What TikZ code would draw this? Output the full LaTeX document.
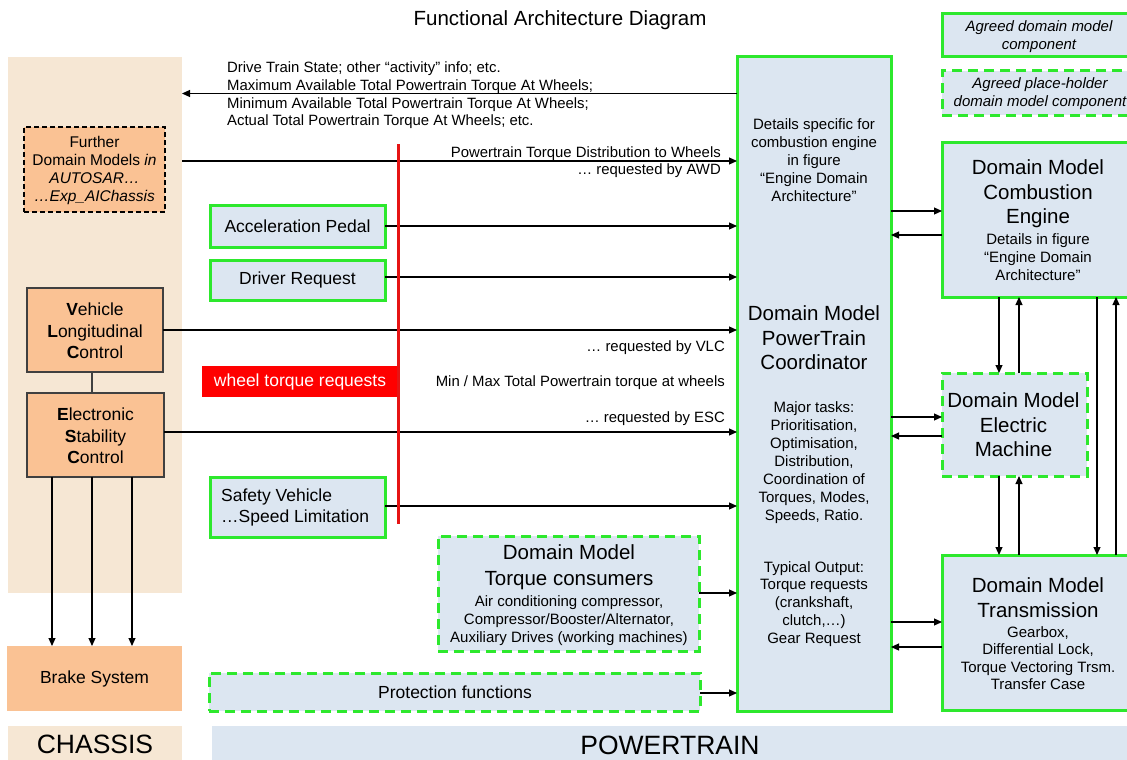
\documentclass[tikz,border=0pt]{standalone}
\usepackage{fontspec}
\setmainfont{Liberation Sans}
\usetikzlibrary{arrows.meta}
\definecolor{grn}{RGB}{45,232,45}
\definecolor{pblue}{RGB}{220,230,241}
\definecolor{orng}{RGB}{250,194,148}
\definecolor{tanbg}{RGB}{246,231,212}
\definecolor{dgray}{RGB}{64,64,64}
\definecolor{redl}{RGB}{230,20,20}
\newcommand\fsLab{\fontsize{14.9}{17.6}\selectfont}
\newcommand\fsSmall{\fontsize{15}{17.9}\selectfont}
\newcommand\fsMid{\fontsize{17.5}{21.5}\selectfont}
\newcommand\fsBig{\fontsize{20.5}{24.5}\selectfont}
\newcommand\fsHuge{\fontsize{26.5}{30}\selectfont}
\tikzset{
  base/.style={anchor=north west, inner sep=0pt, outer sep=0pt},
  gbox/.style={base, draw=grn, line width=3pt, fill=pblue},
  gdash/.style={gbox, dash pattern=on 10pt off 6pt},
  obox/.style={base, draw=dgray, line width=1.3pt, fill=orng},
  plain/.style={base, fill=#1},
  arr/.style={-{Triangle[length=8pt,width=7pt]}, line width=1.1pt, black},
  txt/.style={inner sep=0pt, align=center, text=black},
}
\begin{document}
\begin{tikzpicture}[x=1pt,y=-1pt]
\useasboundingbox (0,0) rectangle (1127,760);
% backgrounds
\node[plain=tanbg, minimum width=174pt, minimum height=536pt] (chpanel) at (8,57) {};
\node[plain=tanbg, minimum width=174pt, minimum height=36pt] (chassis) at (8,726) {};
\node[txt, font=\fsHuge] (chassist) at (chassis.center) {CHASSIS};
\node[plain=pblue, minimum width=918pt, minimum height=36pt] (ptbar) at (212,726) {};
\node[txt, font=\fsHuge] (ptbart) at (670,745) {POWERTRAIN};
\node[plain=orng, minimum width=175pt, minimum height=65pt] (brake) at (7,646) {};
\node[txt, font=\fsMid] (braket) at (brake.center) {Brake System};

% title
\node[txt, font=\fsBig] (title) at (560,20) {Functional Architecture Diagram};

% legend
\node[gbox, minimum width=196pt, minimum height=43pt] (leg1) at (942,14) {};
\node[txt, font=\fsSmall\itshape] (leg1t) at (1039,37) {Agreed domain model\\component};
\node[gdash, minimum width=196pt, minimum height=44pt] (leg2) at (942,71) {};
\node[txt, font=\fsSmall\itshape] (leg2t) at (1040,94) {Agreed place-holder\\domain model component};

% chassis side boxes
\node[base, draw=black, line width=1.2pt, dashed, dash pattern=on 5pt off 3pt, fill=orng, minimum width=141pt, minimum height=85pt] (further) at (24,127) {};
\node[txt, font=\fontsize{15.5}{18}\selectfont] (furthert) at (94.5,170) {Further\\Domain Models \textit{in}\\\textit{AUTOSAR…}\\\textit{…Exp\_AIChassis}};
\node[obox, minimum width=136pt, minimum height=84pt] (vlc) at (27,288) {};
\node[txt, font=\fsMid] (vlct) at (95,331) {\textbf{V}ehicle\\\textbf{L}ongitudinal\\\textbf{C}ontrol};
\node[obox, minimum width=137pt, minimum height=84pt] (esc) at (27,393) {};
\node[txt, font=\fsMid] (esct) at (95.5,436) {\textbf{E}lectronic\\\textbf{S}tability\\\textbf{C}ontrol};

% powertrain inputs
\node[gbox, minimum width=175pt, minimum height=42pt] (accel) at (210,205) {};
\node[txt, font=\fsMid] (accelt) at (accel.center) {Acceleration Pedal};
\node[gbox, minimum width=175pt, minimum height=40pt] (driver) at (210,260) {};
\node[txt, font=\fsMid] (drivert) at (driver.center) {Driver Request};
\node[gbox, minimum width=175pt, minimum height=60pt] (safety) at (210,477) {};
\node[txt, font=\fsMid, align=left, anchor=west] (safetyt) at (221,507.5) {Safety Vehicle\\…Speed Limitation};
\node[gdash, minimum width=261pt, minimum height=115pt] (tcons) at (438,536) {};
\node[txt, font=\fontsize{20.5}{26}\selectfont] (tconst1) at (569,567.5) {Domain Model\\Torque consumers};
\node[txt, font=\fsSmall] (tconst2) at (569,621) {Air conditioning compressor,\\Compressor/Booster/Alternator,\\Auxiliary Drives (working machines)};
\node[gdash, minimum width=491pt, minimum height=38pt] (prot) at (209,673) {};
\node[txt, font=\fsMid] (prott) at (455,692) {Protection functions};

% coordinator
\node[gbox, minimum width=154pt, minimum height=654pt] (coord) at (737,57) {};
\node[txt, font=\fsSmall] (coordt1) at (814,160) {Details specific for\\combustion engine\\in figure\\“Engine Domain\\Architecture”};
\node[txt, font=\fsBig] (coordt2) at (814,338) {Domain Model\\PowerTrain\\Coordinator};
\node[txt, font=\fsSmall] (coordt3) at (814,462.5) {Major tasks:\\Prioritisation,\\Optimisation,\\Distribution,\\Coordination of\\Torques, Modes,\\Speeds, Ratio.};
\node[txt, font=\fsSmall] (coordt4) at (814,604) {Typical Output:\\Torque requests\\(crankshaft,\\clutch,…)\\Gear Request};

% right domain models
\node[gbox, minimum width=196pt, minimum height=155pt] (comb) at (942,142) {};
\node[txt, font=\fsBig] (combt1) at (1038,194) {Domain Model\\Combustion\\Engine};
\node[txt, font=\fsSmall] (combt2) at (1038,257) {Details in figure\\“Engine Domain\\Architecture”};
\node[gdash, minimum width=145pt, minimum height=103pt] (elec) at (942,373) {};
\node[txt, font=\fsBig] (elect) at (1013.5,425) {Domain Model\\Electric\\Machine};
\node[gbox, minimum width=196pt, minimum height=155pt] (trans) at (942,555) {};
\node[txt, font=\fsBig] (transt1) at (1038,597.5) {Domain Model\\Transmission};
\node[txt, font=\fontsize{15}{17.4}\selectfont] (transt2) at (1038,658) {Gearbox,\\Differential Lock,\\Torque Vectoring Trsm.\\Transfer Case};

% coordinates for connector levels
\coordinate (yOut) at (0,93.5);
\coordinate (yAWD) at (0,161);
\coordinate (yDR) at (0,277);
\coordinate (yESC) at (0,432);
\coordinate (ySV) at (0,506);
\coordinate (yTC) at (0,593);
\coordinate (yPF) at (0,693);
\coordinate (yCE1) at (0,211);
\coordinate (yCE2) at (0,235);
\coordinate (yEM1) at (0,417);
\coordinate (yEM2) at (0,436);
\coordinate (yTR1) at (0,622);
\coordinate (yTR2) at (0,647);
\coordinate (xA) at (999,0);
\coordinate (xB) at (1019,0);
\coordinate (xC) at (1097,0);
\coordinate (xD) at (1116,0);
\coordinate (xB1) at (52,0);
\coordinate (xB2) at (92,0);
\coordinate (xB3) at (132,0);

% left-side arrows
\draw[arr] (coord.west |- yOut) -- (chpanel.east |- yOut);
\draw[arr] (chpanel.east |- yAWD) -- (coord.west |- yAWD);
\draw[arr] (accel.east) -- (coord.west |- accel.east);
\draw[arr] (driver.east |- yDR) -- (coord.west |- yDR);
\draw[arr] (vlc.east) -- (coord.west |- vlc.east);
\draw[arr] (esc.east |- yESC) -- (coord.west |- yESC);
\draw[arr] (safety.east |- ySV) -- (coord.west |- ySV);
\draw[arr] (tcons.east |- yTC) -- (coord.west |- yTC);
\draw[arr] (prot.east |- yPF) -- (coord.west |- yPF);

% chassis links
\draw[line width=1.3pt, dgray] (vlc.south -| xB2) -- (esc.north -| xB2);
\draw[arr] (esc.south -| xB1) -- (brake.north -| xB1);
\draw[arr] (esc.south -| xB2) -- (brake.north -| xB2);
\draw[arr] (esc.south -| xB3) -- (brake.north -| xB3);

% right-side arrows
\draw[arr] (coord.east |- yCE1) -- (comb.west |- yCE1);
\draw[arr] (comb.west |- yCE2) -- (coord.east |- yCE2);
\draw[arr] (coord.east |- yEM1) -- (elec.west |- yEM1);
\draw[arr] (elec.west |- yEM2) -- (coord.east |- yEM2);
\draw[arr] (coord.east |- yTR1) -- (trans.west |- yTR1);
\draw[arr] (trans.west |- yTR2) -- (coord.east |- yTR2);
\draw[arr] (comb.south -| xA) -- (elec.north -| xA);
\draw[arr] (elec.north -| xB) -- (comb.south -| xB);
\draw[arr] (elec.south -| xA) -- (trans.north -| xA);
\draw[arr] (trans.north -| xB) -- (elec.south -| xB);
\draw[arr] (comb.south -| xC) -- (trans.north -| xC);
\draw[arr] (trans.north -| xD) -- (comb.south -| xD);

% wheel torque requests bar
\node[base, fill=red, minimum width=196pt, minimum height=31pt] (wtr) at (202,366) {};
\node[txt, font=\fsMid, text=white] (wtrt) at (wtr.center) {wheel torque requests};
\coordinate (redtop) at (398,144);
\coordinate (redbot) at (398,524);
\draw[line width=3pt, redl] (redtop) -- (redbot);

% labels
\node[txt, font=\fsLab, align=left, anchor=west] (outlab) at (227,95.5) {Drive Train State; other “activity” info; etc.\\Maximum  Available Total Powertrain Torque At Wheels;\\Minimum  Available Total Powertrain Torque At Wheels;\\Actual Total Powertrain Torque At Wheels; etc.};
\node[txt, font=\fsLab, align=right, anchor=east] (awdlab) at (721,162) {Powertrain Torque Distribution to Wheels\\… requested by AWD};
\node[txt, font=\fsLab, anchor=east] (vlclab) at (725,348) {… requested by VLC};
\node[txt, font=\fsLab, anchor=east] (mmlab) at (725,383) {Min / Max Total Powertrain torque at wheels};
\node[txt, font=\fsLab, anchor=east] (esclab) at (725,419) {… requested by ESC};
\end{tikzpicture}
\end{document}
